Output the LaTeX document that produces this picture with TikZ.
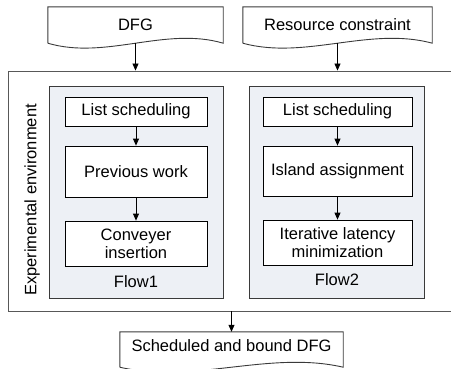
\documentclass[tikz,border=0pt]{standalone}
\usepackage{fontspec}
\setmainfont{Liberation Sans}
\usetikzlibrary{arrows.meta,calc}

\definecolor{panelfill}{HTML}{EDF0F5}
\definecolor{edge}{HTML}{3A3A3A}

% outline of a document symbol: straight top and sides, wavy bottom
\newcommand\docoutline[1]{%
  \draw[docline] (#1.south west) -- (#1.north west) -- (#1.north east) -- (#1.south east)
    .. controls ($(#1.south east)!0.33!(#1.south west)+(0,-17)$)
       and ($(#1.south east)!0.67!(#1.south west)+(0,17)$) .. (#1.south west);}

\begin{document}
\begin{tikzpicture}[x=1pt,y=-1pt,
  every node/.style={font=\fontsize{16.5}{19}\selectfont, inner sep=0pt, align=center},
  docbox/.style={rectangle, draw=none},
  docline/.style={draw=edge, line width=0.9pt},
  envbox/.style={draw=edge!85, line width=0.9pt},
  panel/.style={draw=edge, line width=0.9pt, fill=panelfill},
  stepbox/.style={draw=black, line width=0.8pt, fill=white, rectangle},
  arr/.style={-{Triangle[length=7pt,width=6pt]}, line width=0.8pt, black}]

\useasboundingbox (0,0) rectangle (451,368);

% input documents
\node[docbox, minimum width=175pt, minimum height=36pt] (dfg) at (135.5,25) {DFG};
\docoutline{dfg}
\node[docbox, minimum width=189pt, minimum height=36pt] (res) at (337.5,25) {Resource constraint};
\docoutline{res}

% experimental environment (runs past the right edge)
\node[envbox, minimum width=462pt, minimum height=240pt] (env) at (239,191) {};
\node[rotate=90] (envlabel) at (32,200) {Experimental environment};

% flow panels
\node[panel, minimum width=174pt, minimum height=212pt] (f1) at (136,192) {};
\node[panel, minimum width=175pt, minimum height=212pt] (f2) at (336.5,192) {};
\node (f1label) at (136,282) {Flow1};
\node (f2label) at (337,280) {Flow2};

% Flow1 steps
\node[stepbox, minimum width=142pt, minimum height=29pt] (ls1) at (136,111.5) {List scheduling};
\node[stepbox, minimum width=142pt, minimum height=51pt] (pw) at (136,171.5) {Previous work};
\node[stepbox, minimum width=142pt, minimum height=45pt] (ci) at (136,243.5) {Conveyer\\[-1pt]insertion};

% Flow2 steps
\node[stepbox, minimum width=149pt, minimum height=29pt] (ls2) at (337.5,111.5) {List scheduling};
\node[stepbox, minimum width=149pt, minimum height=50pt] (ia) at (337.5,171) {Island assignment};
\node[stepbox, minimum width=149pt, minimum height=45pt] (il) at (337.5,242.5) {Iterative latency\\[-1pt]minimization};

% output document
\node[docbox, minimum width=223pt, minimum height=35pt] (out) at (231.5,349.5) {};
\docoutline{out}
\node (outlabel) at (231.5,346) {Scheduled and bound DFG};

% connectors
\draw[arr] (dfg.south) -- (dfg.south |- env.north);
\draw[arr] (res.south) -- (res.south |- env.north);
\draw[arr] (ls1) -- (pw);
\draw[arr] (pw) -- (ci);
\draw[arr] (ls2) -- (ia);
\draw[arr] (ia) -- (il);
\draw[arr] (out.north |- env.south) -- (out.north);
\end{tikzpicture}
\end{document}
